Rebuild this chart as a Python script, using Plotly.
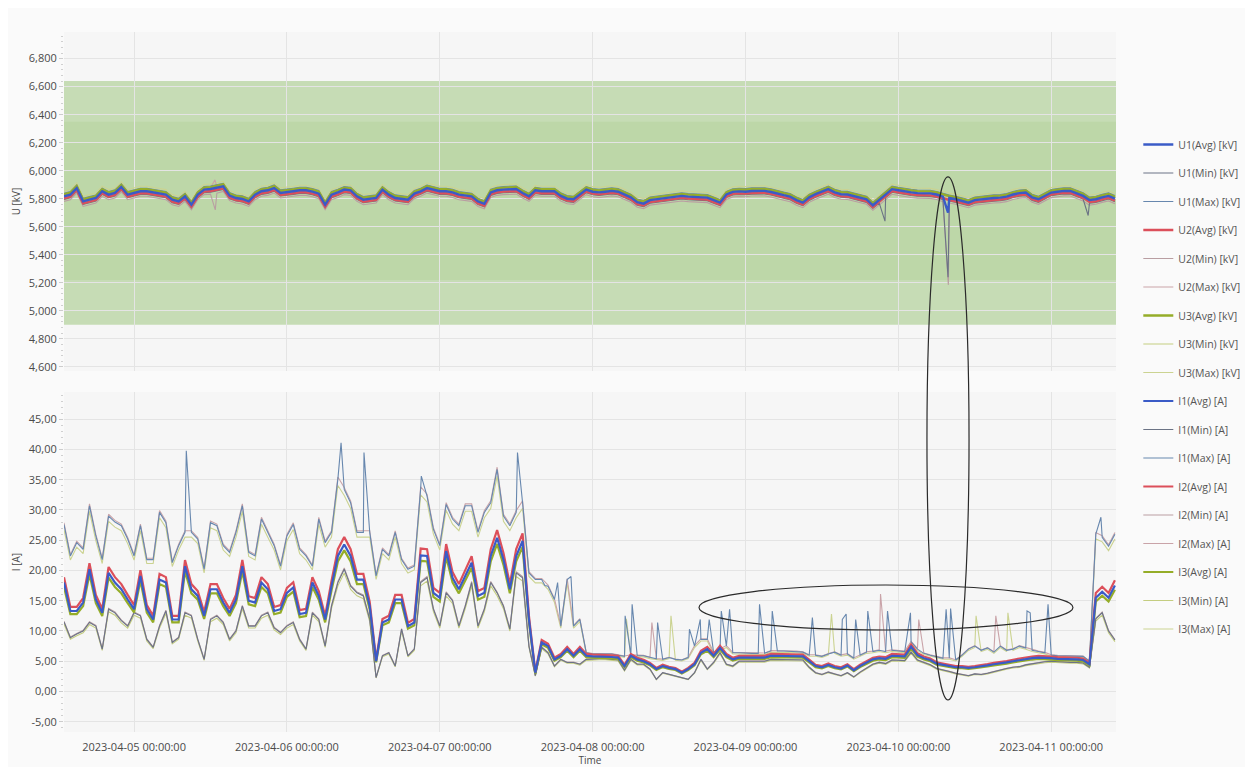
import pandas as pd
import plotly.graph_objects as go
from plotly.subplots import make_subplots

# ---------------- data (hourly readings, hours relative to 2023-04-05 00:00) ----------------
START = pd.Timestamp("2023-04-05 00:00:00")
HOURS = list(range(-11, 155))

U_AVG = [
    5817, 5829, 5876, 5781, 5793, 5805, 5853, 5829, 5841, 5884, 5829,
    5841, 5853, 5853, 5845, 5841, 5829, 5793, 5781, 5817, 5757,
    5829, 5865, 5869, 5876, 5888, 5822, 5805, 5798, 5781, 5829,
    5853, 5860, 5876, 5841, 5845, 5853, 5860, 5860, 5850, 5836,
    5757, 5829, 5845, 5865, 5860, 5817, 5793, 5798, 5805, 5865,
    5829, 5805, 5798, 5793, 5836, 5853, 5876, 5865, 5853, 5853,
    5845, 5829, 5822, 5817, 5781, 5764, 5845, 5860, 5865, 5865,
    5869, 5841, 5817, 5860, 5853, 5853, 5853, 5820, 5800, 5796,
    5830, 5865, 5850, 5845, 5850, 5856, 5850, 5830, 5810, 5775,
    5765, 5790, 5796, 5800, 5810, 5815, 5820, 5815, 5812, 5808,
    5808, 5790, 5772, 5830, 5849, 5852, 5850, 5855, 5856, 5856,
    5848, 5835, 5825, 5815, 5790, 5772, 5810, 5832, 5850, 5868,
    5845, 5832, 5830, 5820, 5805, 5796, 5753, 5790, 5830, 5868,
    5860, 5850, 5845, 5840, 5840, 5838, 5830, 5815, 5805, 5796,
    5785, 5772, 5790, 5796, 5800, 5805, 5808, 5815, 5830, 5840,
    5844, 5810, 5796, 5820, 5844, 5850, 5856, 5855, 5840, 5820,
    5790, 5796, 5810, 5820, 5800,
]

I_AVG = [
    18.0, 13.3, 13.3, 14.7, 20.2, 15.2, 13.0, 19.6, 18.0, 16.9, 15.2,
    13.6, 19.1, 13.6, 11.9, 18.5, 18.0, 11.9, 11.9, 20.7, 16.9,
    15.8, 12.5, 16.9, 16.9, 14.7, 13.0, 15.2, 20.7, 15.0, 14.7,
    18.0, 16.9, 13.3, 13.6, 16.3, 17.2, 12.8, 13.0, 18.0, 15.8,
    11.9, 17.4, 22.4, 24.3, 22.4, 18.5, 18.5, 14.1, 5.0, 11.4,
    11.9, 15.2, 15.2, 10.8, 11.4, 22.5, 22.4, 16.3, 15.5, 23.2,
    18.8, 16.9, 19.1, 21.3, 15.8, 16.3, 22.4, 25.4, 21.8, 16.9,
    22.4, 24.9, 11.9, 3.1, 8.1, 7.5, 5.3, 5.9, 7.0, 5.9,
    7.0, 5.9, 5.8, 5.8, 5.8, 5.7, 5.6, 4.2, 5.9, 5.3,
    5.0, 4.5, 3.7, 4.2, 3.9, 3.7, 3.1, 3.7, 4.5, 6.4,
    7.0, 5.9, 7.2, 5.9, 5.3, 5.6, 5.6, 5.6, 5.6, 5.6,
    5.9, 5.9, 5.9, 5.8, 5.8, 5.8, 5.0, 4.2, 4.0, 4.4,
    4.0, 3.8, 4.3, 3.5, 4.2, 4.8, 5.3, 5.5, 5.4, 5.9,
    5.8, 5.8, 7.4, 6.0, 5.5, 5.2, 4.6, 4.4, 4.3, 4.0,
    4.0, 3.9, 4.0, 4.1, 4.3, 4.5, 4.6, 4.8, 5.0, 5.2,
    5.4, 5.5, 5.6, 5.6, 5.5, 5.4, 5.4, 5.3, 5.3, 5.2,
    4.5, 15.5, 16.5, 15.5, 17.5,
]

I_MAX = [
    27.6, 22.4, 24.6, 23.5, 30.7, 25.7, 21.8, 29.0, 28.0, 27.4, 25.2,
    22.4, 27.4, 21.8, 21.8, 29.6, 27.9, 21.3, 24.1, 26.3, 26.3,
    25.2, 20.2, 27.9, 27.4, 24.1, 23.0, 26.3, 30.7, 23.0, 22.4,
    28.5, 26.3, 24.1, 20.7, 25.7, 27.6, 23.5, 22.4, 20.7, 28.5,
    24.6, 26.3, 35.1, 33.4, 31.2, 26.3, 26.3, 26.3, 19.1, 23.5,
    22.4, 26.3, 21.8, 20.2, 20.7, 33.5, 32.3, 26.8, 24.1, 30.9,
    28.5, 27.4, 30.7, 30.7, 26.3, 29.6, 31.2, 36.7, 29.0, 27.4,
    29.6, 31.2, 19.6, 18.5, 18.5, 17.4, 15.2, 10.8, 18.5, 10.8,
    11.9, 6.4, 6.2, 6.2, 6.3, 6.2, 6.0, 5.8, 6.0, 5.9,
    5.9, 5.6, 5.4, 5.3, 5.6, 5.3, 5.2, 5.6, 7.5, 8.6,
    8.6, 6.4, 7.0, 7.5, 6.4, 6.4, 6.3, 6.3, 6.3, 6.3,
    6.7, 6.7, 6.7, 6.6, 6.6, 6.5, 6.0, 6.0, 5.8, 6.2,
    6.5, 6.0, 6.2, 5.5, 6.0, 6.5, 6.6, 6.8, 6.6, 6.8,
    6.7, 6.6, 8.2, 7.0, 6.3, 6.0, 5.8, 5.5, 5.5, 5.2,
    6.0, 7.0, 7.5, 6.8, 7.2, 6.5, 7.5, 6.8, 7.0, 7.5,
    7.2, 6.8, 6.6, 6.4, 6.0, 5.9, 5.9, 5.9, 5.8, 5.8,
    5.0, 26.0, 25.5, 24.0, 26.0,
]

I_MIN = [
    11.5, 8.9, 9.5, 10.0, 11.4, 10.8, 7.0, 13.6, 13.0, 11.7, 10.8,
    13.0, 12.5, 8.6, 7.3, 10.8, 13.3, 8.1, 8.9, 13.0, 12.5,
    8.6, 5.3, 11.9, 12.5, 11.4, 8.6, 10.0, 14.1, 10.8, 10.8,
    12.5, 13.0, 10.5, 9.7, 10.8, 11.4, 8.6, 7.0, 13.0, 11.9,
    7.5, 14.1, 18.0, 20.2, 17.4, 16.3, 15.8, 11.9, 2.3, 5.9,
    6.4, 4.2, 10.3, 5.9, 7.0, 18.0, 18.8, 13.6, 10.8, 16.3,
    15.0, 10.8, 14.1, 18.0, 10.8, 13.6, 18.0, 16.3, 14.1, 10.3,
    19.6, 18.8, 7.5, 2.6, 7.3, 6.4, 4.2, 5.3, 4.8, 4.8,
    4.5, 5.3, 5.4, 5.4, 5.4, 5.3, 5.2, 3.5, 5.3, 4.5,
    4.5, 3.7, 2.0, 3.1, 2.8, 2.6, 2.3, 2.0, 3.1, 5.3,
    3.7, 4.8, 6.4, 4.5, 4.2, 5.0, 5.0, 5.0, 5.0, 5.0,
    5.3, 5.3, 5.3, 5.2, 5.2, 5.2, 4.0, 3.1, 2.8, 3.2,
    2.9, 2.6, 3.1, 2.4, 3.2, 3.8, 4.5, 4.8, 4.6, 5.2,
    5.2, 5.1, 6.5, 5.2, 4.8, 4.4, 3.8, 3.6, 3.3, 3.0,
    2.8, 2.6, 2.9, 2.8, 3.0, 3.3, 3.5, 3.8, 4.0, 4.1,
    4.4, 4.6, 4.8, 4.9, 5.0, 4.9, 4.9, 4.8, 4.8, 4.7,
    4.0, 12.0, 13.0, 10.0, 8.5,
]

# phase differences
U_PHASE_OFFSET = {"U1": 0, "U2": -14, "U3": 14}
U_STAT_OFFSET = {"Avg": 0, "Min": -22, "Max": 22}
I_PHASE_SCALE = {
    "Avg": {"I1": 1.00, "I2": 1.05, "I3": 0.96},
    "Min": {"I1": 1.00, "I2": 1.01, "I3": 0.97},
    "Max": {"I1": 1.00, "I2": 1.01, "I3": 0.97},
}

# short events (hour, value)
U_EVENTS = {
    ("U1", "Avg"): [(127.8, 5700)],
    ("U1", "Min"): [(117.9, 5640), (127.8, 5240), (149.8, 5680)],
    ("U2", "Min"): [(12.75, 5720), (127.85, 5185)],
    ("U2", "Max"): [(12.7, 5935)],
}
I_EVENTS = {
    ("I1", "Max"): [(8.2, 39.8), (32.5, 41.1), (36.1, 39.5), (45.1, 35.6), (60.2, 39.5),
                    (64.5, 17.5), (66.5, 18.0), (68.6, 19.0), (77.1, 12.5), (78.2, 14.4),
                    (82.2, 11.4), (87.2, 10.3), (88.9, 11.9), (90.3, 11.9), (92.2, 13.3),
                    (93.5, 13.6), (98.2, 14.4), (100.2, 13.3), (106.5, 12.2), (111.2, 11.9),
                    (111.8, 12.8), (113.3, 11.9), (115.2, 13.3), (118.3, 13.3), (121.9, 13.0),
                    (127.5, 13.6), (128.2, 13.7), (140.2, 13.3), (140.7, 13.0), (143.5, 14.4),
                    (151.8, 28.8)],
    ("I2", "Max"): [(81.3, 11.4), (117.2, 16.1), (123.2, 11.9), (135.3, 12.5)],
    ("I3", "Max"): [(77.3, 12.0), (84.3, 12.5), (109.5, 12.8), (132.2, 12.5), (137.2, 13.0)],
}

U_BAND_OUTER = (4900, 6640)
U_BAND_INNER = (5220, 6350)

PHASES_U = ["U1", "U2", "U3"]
PHASES_I = ["I1", "I2", "I3"]
STATS = ["Avg", "Min", "Max"]

COLORS = {
    (0, "Avg"): "#3a5bc7", (0, "Min"): "#6b7385", (0, "Max"): "#6787ae",
    (1, "Avg"): "#dc4f5a", (1, "Min"): "#b99ea2", (1, "Max"): "#c9a3a8",
    (2, "Avg"): "#95ad28", (2, "Min"): "#c4cd80", (2, "Max"): "#cbd391",
}


def merge(base_v, events):
    pts = list(zip(HOURS, base_v)) + list(events)
    pts.sort(key=lambda p: p[0])
    xs = [START + pd.Timedelta(hours=float(h)) for h, _ in pts]
    return xs, [v for _, v in pts]


fig = make_subplots(rows=2, cols=1, shared_xaxes=True, vertical_spacing=0.03)

for k, ph in enumerate(PHASES_U):
    for st in STATS:
        base = [v + U_PHASE_OFFSET[ph] + U_STAT_OFFSET[st] for v in U_AVG]
        xs, ys = merge(base, U_EVENTS.get((ph, st), []))
        name = f"{ph}({st}) [kV]"
        fig.add_trace(go.Scatter(
            x=xs, y=ys, mode="lines", name=name, legendgroup=name,
            line=dict(color=COLORS[(k, st)], width=2.4 if st == "Avg" else 1.1),
            zorder=(10 - k) if st == "Avg" else (4 - k),
        ), row=1, col=1)

I_BASE = {"Avg": I_AVG, "Min": I_MIN, "Max": I_MAX}
for k, ph in enumerate(PHASES_I):
    for st in STATS:
        base = [round(v * I_PHASE_SCALE[st][ph], 2) for v in I_BASE[st]]
        xs, ys = merge(base, I_EVENTS.get((ph, st), []))
        name = f"{ph}({st}) [A]"
        fig.add_trace(go.Scatter(
            x=xs, y=ys, mode="lines", name=name, legendgroup=name,
            line=dict(color=COLORS[(k, st)], width=2.2 if st == "Avg" else 1.1),
            zorder=(10 - k) if st == "Avg" else (4 - k),
        ), row=2, col=1)

FONT = "Open Sans, Noto Sans, sans-serif"
GRID = "#e4e4e4"
LINE = "#d4d4d4"
TXT = "#4a4a4a"

x_range = [START + pd.Timedelta(hours=-11), START + pd.Timedelta(hours=154.17)]
common_x = dict(
    range=x_range, showgrid=True, gridcolor=GRID, gridwidth=1,
    tick0="2023-04-05", dtick=86400000, showline=True, linecolor=LINE, mirror=True,
    zeroline=False, automargin=False,
)
fig.update_xaxes(**common_x)
fig.update_xaxes(showticklabels=False, ticks="", row=1, col=1)
fig.update_xaxes(tickformat="%Y-%m-%d %H:%M:%S", ticks="outside", ticklen=5,
                 tickcolor="rgba(0,0,0,0)", tickfont=dict(size=11, color=TXT),
                 title=dict(text="Time", font=dict(size=10, color=TXT), standoff=0), row=2, col=1)

u_ticks = list(range(4600, 6801, 200))
fig.update_yaxes(
    range=[4570, 6990], tickvals=u_ticks, tickformat=",.0f",
    showgrid=True, gridcolor=GRID, zeroline=False, showline=True, linecolor=LINE, mirror=True,
    ticks="outside", ticklen=4, tickcolor="#cccccc", tickfont=dict(size=11, color=TXT),
    minor=dict(ticks="outside", ticklen=2, tickcolor="#d0d0d0", dtick=40, showgrid=False),
    title=dict(text="U [kV]", font=dict(size=10, color=TXT), standoff=6),
    domain=[0.5157, 1.0], automargin=False, row=1, col=1,
)
i_ticks = list(range(-5, 46, 5))
fig.update_yaxes(
    range=[-6.7, 49.5], tickvals=i_ticks, ticktext=[f"{v:.2f}".replace(".", ",") for v in i_ticks],
    showgrid=True, gridcolor=GRID, zeroline=False, showline=True, linecolor=LINE, mirror=True,
    ticks="outside", ticklen=4, tickcolor="#cccccc", tickfont=dict(size=11, color=TXT),
    minor=dict(ticks="outside", ticklen=2, tickcolor="#d0d0d0", dtick=1, showgrid=False),
    title=dict(text="I [A]", font=dict(size=10, color=TXT), standoff=6),
    domain=[0.0, 0.4857], automargin=False, row=2, col=1,
)

shapes = [
    dict(type="rect", xref="x domain", yref="y", x0=0, x1=1, y0=U_BAND_OUTER[0], y1=U_BAND_OUTER[1],
         fillcolor="#c6dcb5", line=dict(width=0), layer="below"),
    dict(type="rect", xref="x domain", yref="y", x0=0, x1=1, y0=U_BAND_INNER[0], y1=U_BAND_INNER[1],
         fillcolor="#bdd7a8", line=dict(width=0), layer="below"),
    dict(type="circle", xref="paper", yref="paper", x0=0.6036, x1=0.9591, y0=0.1457, y1=0.21,
         line=dict(color="#2a2a2a", width=1.2), fillcolor="rgba(0,0,0,0)", layer="above"),
    dict(type="circle", xref="paper", yref="paper", x0=0.8203, x1=0.8603, y0=0.0457, y1=0.7929,
         line=dict(color="#2a2a2a", width=1.2), fillcolor="rgba(0,0,0,0)", layer="above"),
]

# page body keeps an 8px margin, so the figure is 8px smaller and margins shifted by 8px
fig.update_layout(
    width=1245, height=759,
    margin=dict(l=56, r=137, t=24, b=35, autoexpand=False),
    paper_bgcolor="#fafafa", plot_bgcolor="#f6f6f6",
    font=dict(family=FONT, color=TXT),
    shapes=shapes,
    showlegend=True,
    legend=dict(x=1.0212, xanchor="left", y=0.86, yanchor="top", traceorder="grouped",
                tracegroupgap=9.5, font=dict(size=10.5, color="#555555"),
                bgcolor="rgba(0,0,0,0)", itemwidth=30),
    hovermode=False,
)

fig.write_html("out.html")
